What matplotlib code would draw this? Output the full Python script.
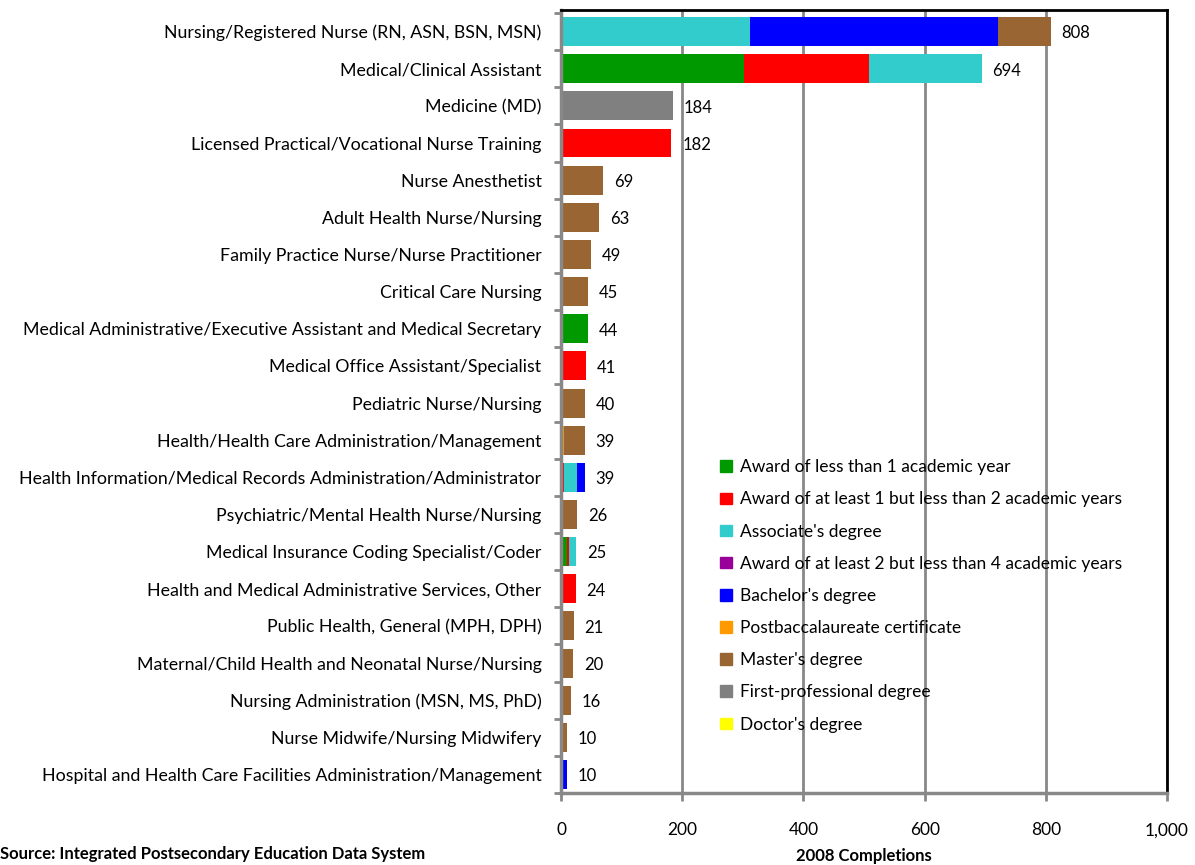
import matplotlib.pyplot as plt
from matplotlib.patches import Patch
import numpy as np

plt.rcParams['font.family'] = ['Lato', 'DejaVu Sans']

# Data
programs = [
    "Nursing/Registered Nurse (RN, ASN, BSN, MSN)",
    "Medical/Clinical Assistant",
    "Medicine (MD)",
    "Licensed Practical/Vocational Nurse Training",
    "Nurse Anesthetist",
    "Adult Health Nurse/Nursing",
    "Family Practice Nurse/Nurse Practitioner",
    "Critical Care Nursing",
    "Medical Administrative/Executive Assistant and Medical Secretary",
    "Medical Office Assistant/Specialist",
    "Pediatric Nurse/Nursing",
    "Health/Health Care Administration/Management",
    "Health Information/Medical Records Administration/Administrator",
    "Psychiatric/Mental Health Nurse/Nursing",
    "Medical Insurance Coding Specialist/Coder",
    "Health and Medical Administrative Services, Other",
    "Public Health, General (MPH, DPH)",
    "Maternal/Child Health and Neonatal Nurse/Nursing",
    "Nursing Administration (MSN, MS, PhD)",
    "Nurse Midwife/Nursing Midwifery",
    "Hospital and Health Care Facilities Administration/Management",
]
award_lt1 = [0, 302, 0, 0, 0, 0, 0, 0, 44, 0, 0, 0, 0, 0, 10, 0, 0, 0, 0, 0, 0]
award_1to2 = [0, 206, 0, 182, 0, 0, 0, 0, 0, 41, 0, 0, 5, 0, 3, 24, 0, 0, 0, 0, 0]
associate = [312, 186, 0, 0, 0, 0, 0, 0, 0, 0, 0, 0, 22, 0, 12, 0, 0, 0, 0, 0, 0]
award_2to4 = [0] * 21
bachelor = [409, 0, 0, 0, 0, 0, 0, 0, 0, 0, 0, 3, 12, 0, 0, 0, 0, 0, 0, 0, 10]
postbacc = [0, 0, 0, 0, 0, 0, 0, 0, 0, 0, 0, 2, 0, 0, 0, 0, 0, 0, 0, 0, 0]
master = [87, 0, 0, 0, 69, 63, 49, 45, 0, 0, 40, 34, 0, 26, 0, 0, 21, 20, 16, 10, 0]
first_prof = [0, 0, 184, 0, 0, 0, 0, 0, 0, 0, 0, 0, 0, 0, 0, 0, 0, 0, 0, 0, 0]
doctor = [0] * 21
totals = [808, 694, 184, 182, 69, 63, 49, 45, 44, 41, 40, 39, 39, 26, 25, 24, 21, 20, 16, 10, 10]

series = [
    ("Award of less than 1 academic year", award_lt1, "#009900"),
    ("Award of at least 1 but less than 2 academic years", award_1to2, "#FF0000"),
    ("Associate's degree", associate, "#33CCCC"),
    ("Award of at least 2 but less than 4 academic years", award_2to4, "#990099"),
    ("Bachelor's degree", bachelor, "#0000FF"),
    ("Postbaccalaureate certificate", postbacc, "#FF9900"),
    ("Master's degree", master, "#996633"),
    ("First-professional degree", first_prof, "#808080"),
    ("Doctor's degree", doctor, "#FFFF00"),
]

fig = plt.figure(figsize=(11.95, 8.65), dpi=100)
ax = fig.add_axes([0.4695, 0.0832, 0.5071, 0.9052])

y = np.arange(len(programs))
left = np.zeros(len(programs))
for name, vals, color in series:
    vals = np.array(vals, dtype=float)
    ax.barh(y, vals, left=left, height=0.78, color=color, label=name)
    left += vals

for yi, tot in zip(y, totals):
    ax.text(tot + 18, yi + 0.05, str(tot), va='center', ha='left', fontsize=12)

ax.set_xlim(0, 1000)
ax.set_ylim(len(programs) - 0.5, -0.58)
ax.set_xticks([0, 200, 400, 600, 800, 1000])
ax.set_xticklabels(["0", "200", "400", "600", "800", "1,000"], fontsize=12.5)
ax.set_yticks(y)
ax.set_yticklabels(programs, fontsize=12.8)
ax.set_yticks(np.arange(-0.5, len(programs), 1), minor=True)
ax.tick_params(axis='y', which='major', length=0, pad=14)
ax.tick_params(axis='y', which='minor', length=5, width=2, color='#888888')
ax.tick_params(axis='x', length=6, width=2, color='#888888', pad=15)

ax.grid(axis='x', color='#888888', linewidth=2)
ax.set_axisbelow(True)
for s in ['left', 'bottom']:
    ax.spines[s].set_color('#888888')
    ax.spines[s].set_linewidth(2.5)
for s in ['top', 'right']:
    ax.spines[s].set_color('black')
    ax.spines[s].set_linewidth(2)

handles = [Patch(color=c, label=n) for n, v, c in series]
fig.legend(handles=handles, loc='upper left', bbox_to_anchor=(0.597, 0.477),
           frameon=False, fontsize=12.5, handlelength=0.65, handleheight=0.65,
           handletextpad=0.5, labelspacing=0.93, borderaxespad=0)

fig.text(0.0, 0.003, "Source: Integrated Postsecondary Education Data System",
         fontsize=12, fontweight='bold', ha='left', va='bottom')
fig.text(0.7231, 0.001, "2008 Completions", fontsize=12, fontweight='bold',
         ha='center', va='bottom')

fig.savefig('out.png', dpi=100)
